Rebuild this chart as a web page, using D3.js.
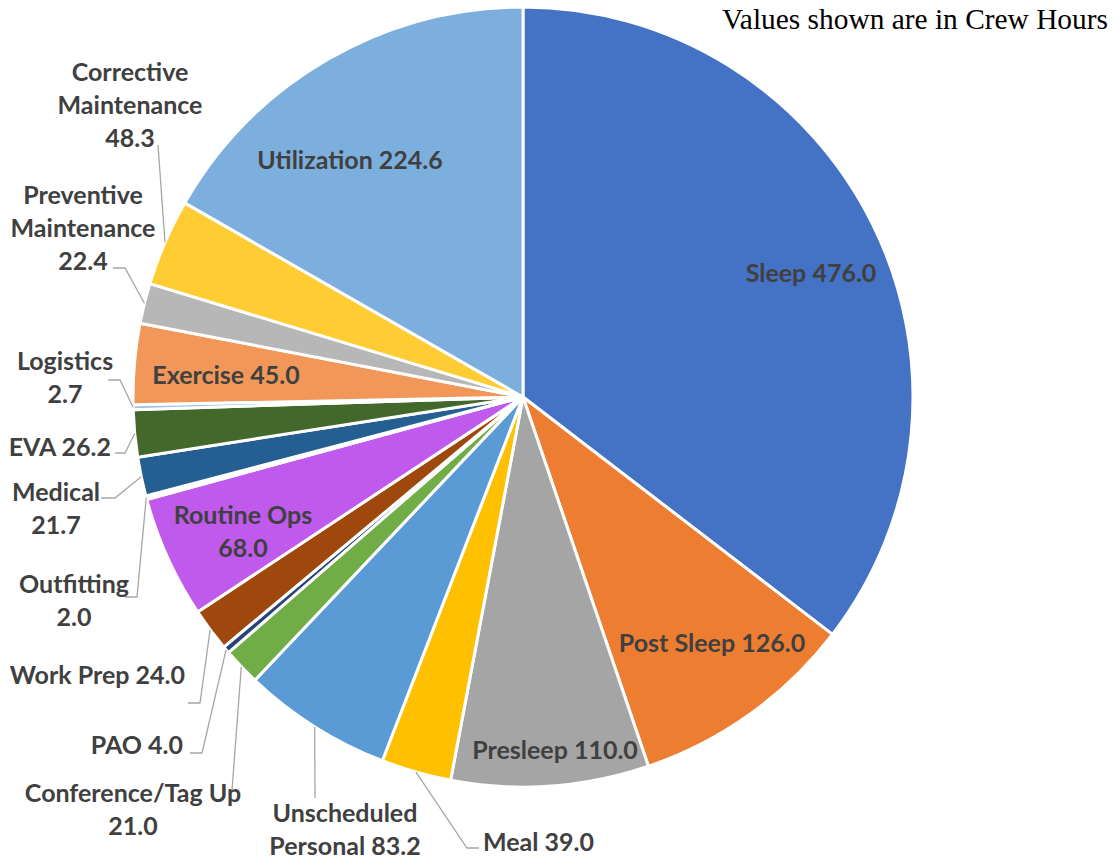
<!DOCTYPE html>
<html>
<head>
<meta charset="utf-8">
<script src="https://cdn.jsdelivr.net/npm/d3@7"></script>
<style>
  body { margin: 0; background: #fff; }
  .lbl { font-family: Lato, "Open Sans", sans-serif; font-weight: bold; fill: #404040; }
  .leader { fill: none; stroke: #a6a6a6; stroke-width: 1.3; }
</style>
</head>
<body>
<svg id="chart"></svg>
<script>
// slice data, clockwise from 12 o'clock
var categories = ["Sleep", "Post Sleep", "Presleep", "Meal", "Unscheduled Personal",
  "Conference/Tag Up", "PAO", "Work Prep", "Routine Ops", "Outfitting", "Medical",
  "EVA", "Logistics", "Exercise", "Preventive Maintenance", "Corrective Maintenance", "Utilization"];
var hours = [476.0, 126.0, 110.0, 39.0, 83.2, 21.0, 4.0, 24.0, 68.0, 2.0, 21.7, 26.2, 2.7, 45.0, 22.4, 48.3, 224.6];
var colors = ["#4472C4", "#ED7D31", "#A5A5A5", "#FFC000", "#5B9BD5", "#70AD47", "#264478",
  "#9E480E", "#BF5AEC", "#FFFFFF", "#255E91", "#43682B", "#9DC3E6", "#F1975A", "#B7B7B7",
  "#FFCD33", "#7CAFDD"];
var note = "Values shown are in Crew Hours";

var width = 1119, height = 861;
var cx = 523, cy = 397, radius = 390;

// label layout relative to pie centre: lines, text x/y, anchor, leader elbow + end (outside only)
var labelLayout = {
  "Sleep": {lines: ["Sleep {v}"], x: 288, y: -124},
  "Post Sleep": {lines: ["Post Sleep {v}"], x: 189, y: 246},
  "Presleep": {lines: ["Presleep {v}"], x: 32, y: 353},
  "Meal": {lines: ["Meal {v}"], x: -40, y: 445, anchor: "start", elbow: [-56, 451], end: [-44, 451]},
  "Unscheduled Personal": {lines: ["Unscheduled", "Personal {v}"], x: -178, y: 416, elbow: [-208, 401]},
  "Conference/Tag Up": {lines: ["Conference/Tag Up", "{v}"], x: -390, y: 396, elbow: [-291, 393]},
  "PAO": {lines: ["PAO {v}"], x: -340, y: 348, anchor: "end", elbow: [-321, 356], end: [-333, 356]},
  "Work Prep": {lines: ["Work Prep {v}"], x: -338, y: 278, anchor: "end", elbow: [-323, 306], end: [-335, 306]},
  "Routine Ops": {lines: ["Routine Ops", "{v}"], x: -280, y: 118},
  "Outfitting": {lines: ["Outfitting", "{v}"], x: -449, y: 187, elbow: [-386, 200], end: [-398, 200]},
  "Medical": {lines: ["Medical", "{v}"], x: -467, y: 95, elbow: [-408, 101], end: [-422, 101]},
  "EVA": {lines: ["EVA {v}"], x: -412, y: 50, anchor: "end", elbow: [-398, 56], end: [-408, 56]},
  "Logistics": {lines: ["Logistics", "{v}"], x: -458, y: -36, elbow: [-403, -17], end: [-415, -17]},
  "Exercise": {lines: ["Exercise {v}"], x: -297, y: -22},
  "Preventive Maintenance": {lines: ["Preventive", "Maintenance", "{v}"], x: -440, y: -202, elbow: [-398, -129], end: [-410, -129]},
  "Corrective Maintenance": {lines: ["Corrective", "Maintenance", "{v}"], x: -393, y: -325, elbow: [-365, -252]},
  "Utilization": {lines: ["Utilization {v}"], x: -173, y: -237}
};

var data = categories.map(function(c, i){ return {name: c, value: hours[i], color: colors[i]}; });

var svg = d3.select("#chart").attr("width", width).attr("height", height);

var pie = d3.pie().sort(null).value(function(d){ return d.value; });
var arc = d3.arc().innerRadius(0).outerRadius(radius);
var arcs = pie(data);

var g = svg.append("g").attr("transform", "translate(" + cx + "," + cy + ")");

g.selectAll("path.slice").data(arcs).enter().append("path")
  .attr("class", "slice")
  .attr("d", arc)
  .attr("fill", function(d){ return d.data.color; })
  .attr("stroke", "#fff")
  .attr("stroke-width", 3)
  .attr("stroke-linejoin", "round");

// leader lines
arcs.forEach(function(d){
  var L = labelLayout[d.data.name];
  if (!L.elbow) return;
  var mid = (d.startAngle + d.endAngle) / 2;
  var pts = [[Math.sin(mid) * radius, -Math.cos(mid) * radius], L.elbow];
  if (L.end) pts.push(L.end);
  g.append("path").attr("class", "leader").attr("d", d3.line()(pts));
});

// labels
var lineH = 33;
arcs.forEach(function(d){
  var L = labelLayout[d.data.name];
  var v = d3.format(".1f")(d.data.value);
  var t = g.append("text").attr("class", "lbl")
    .attr("font-size", 25)
    .attr("text-anchor", L.anchor || "middle");
  L.lines.forEach(function(s, i){
    t.append("tspan").attr("x", L.x).attr("y", L.y + i * lineH).attr("dy", "0.35em")
      .text(s.replace("{v}", v));
  });
});

svg.append("text")
  .attr("x", 1108).attr("y", 29)
  .attr("text-anchor", "end")
  .attr("font-family", "'Liberation Serif', 'Times New Roman', serif")
  .attr("font-size", 29.4)
  .attr("fill", "#000")
  .text(note);
</script>
</body>
</html>
